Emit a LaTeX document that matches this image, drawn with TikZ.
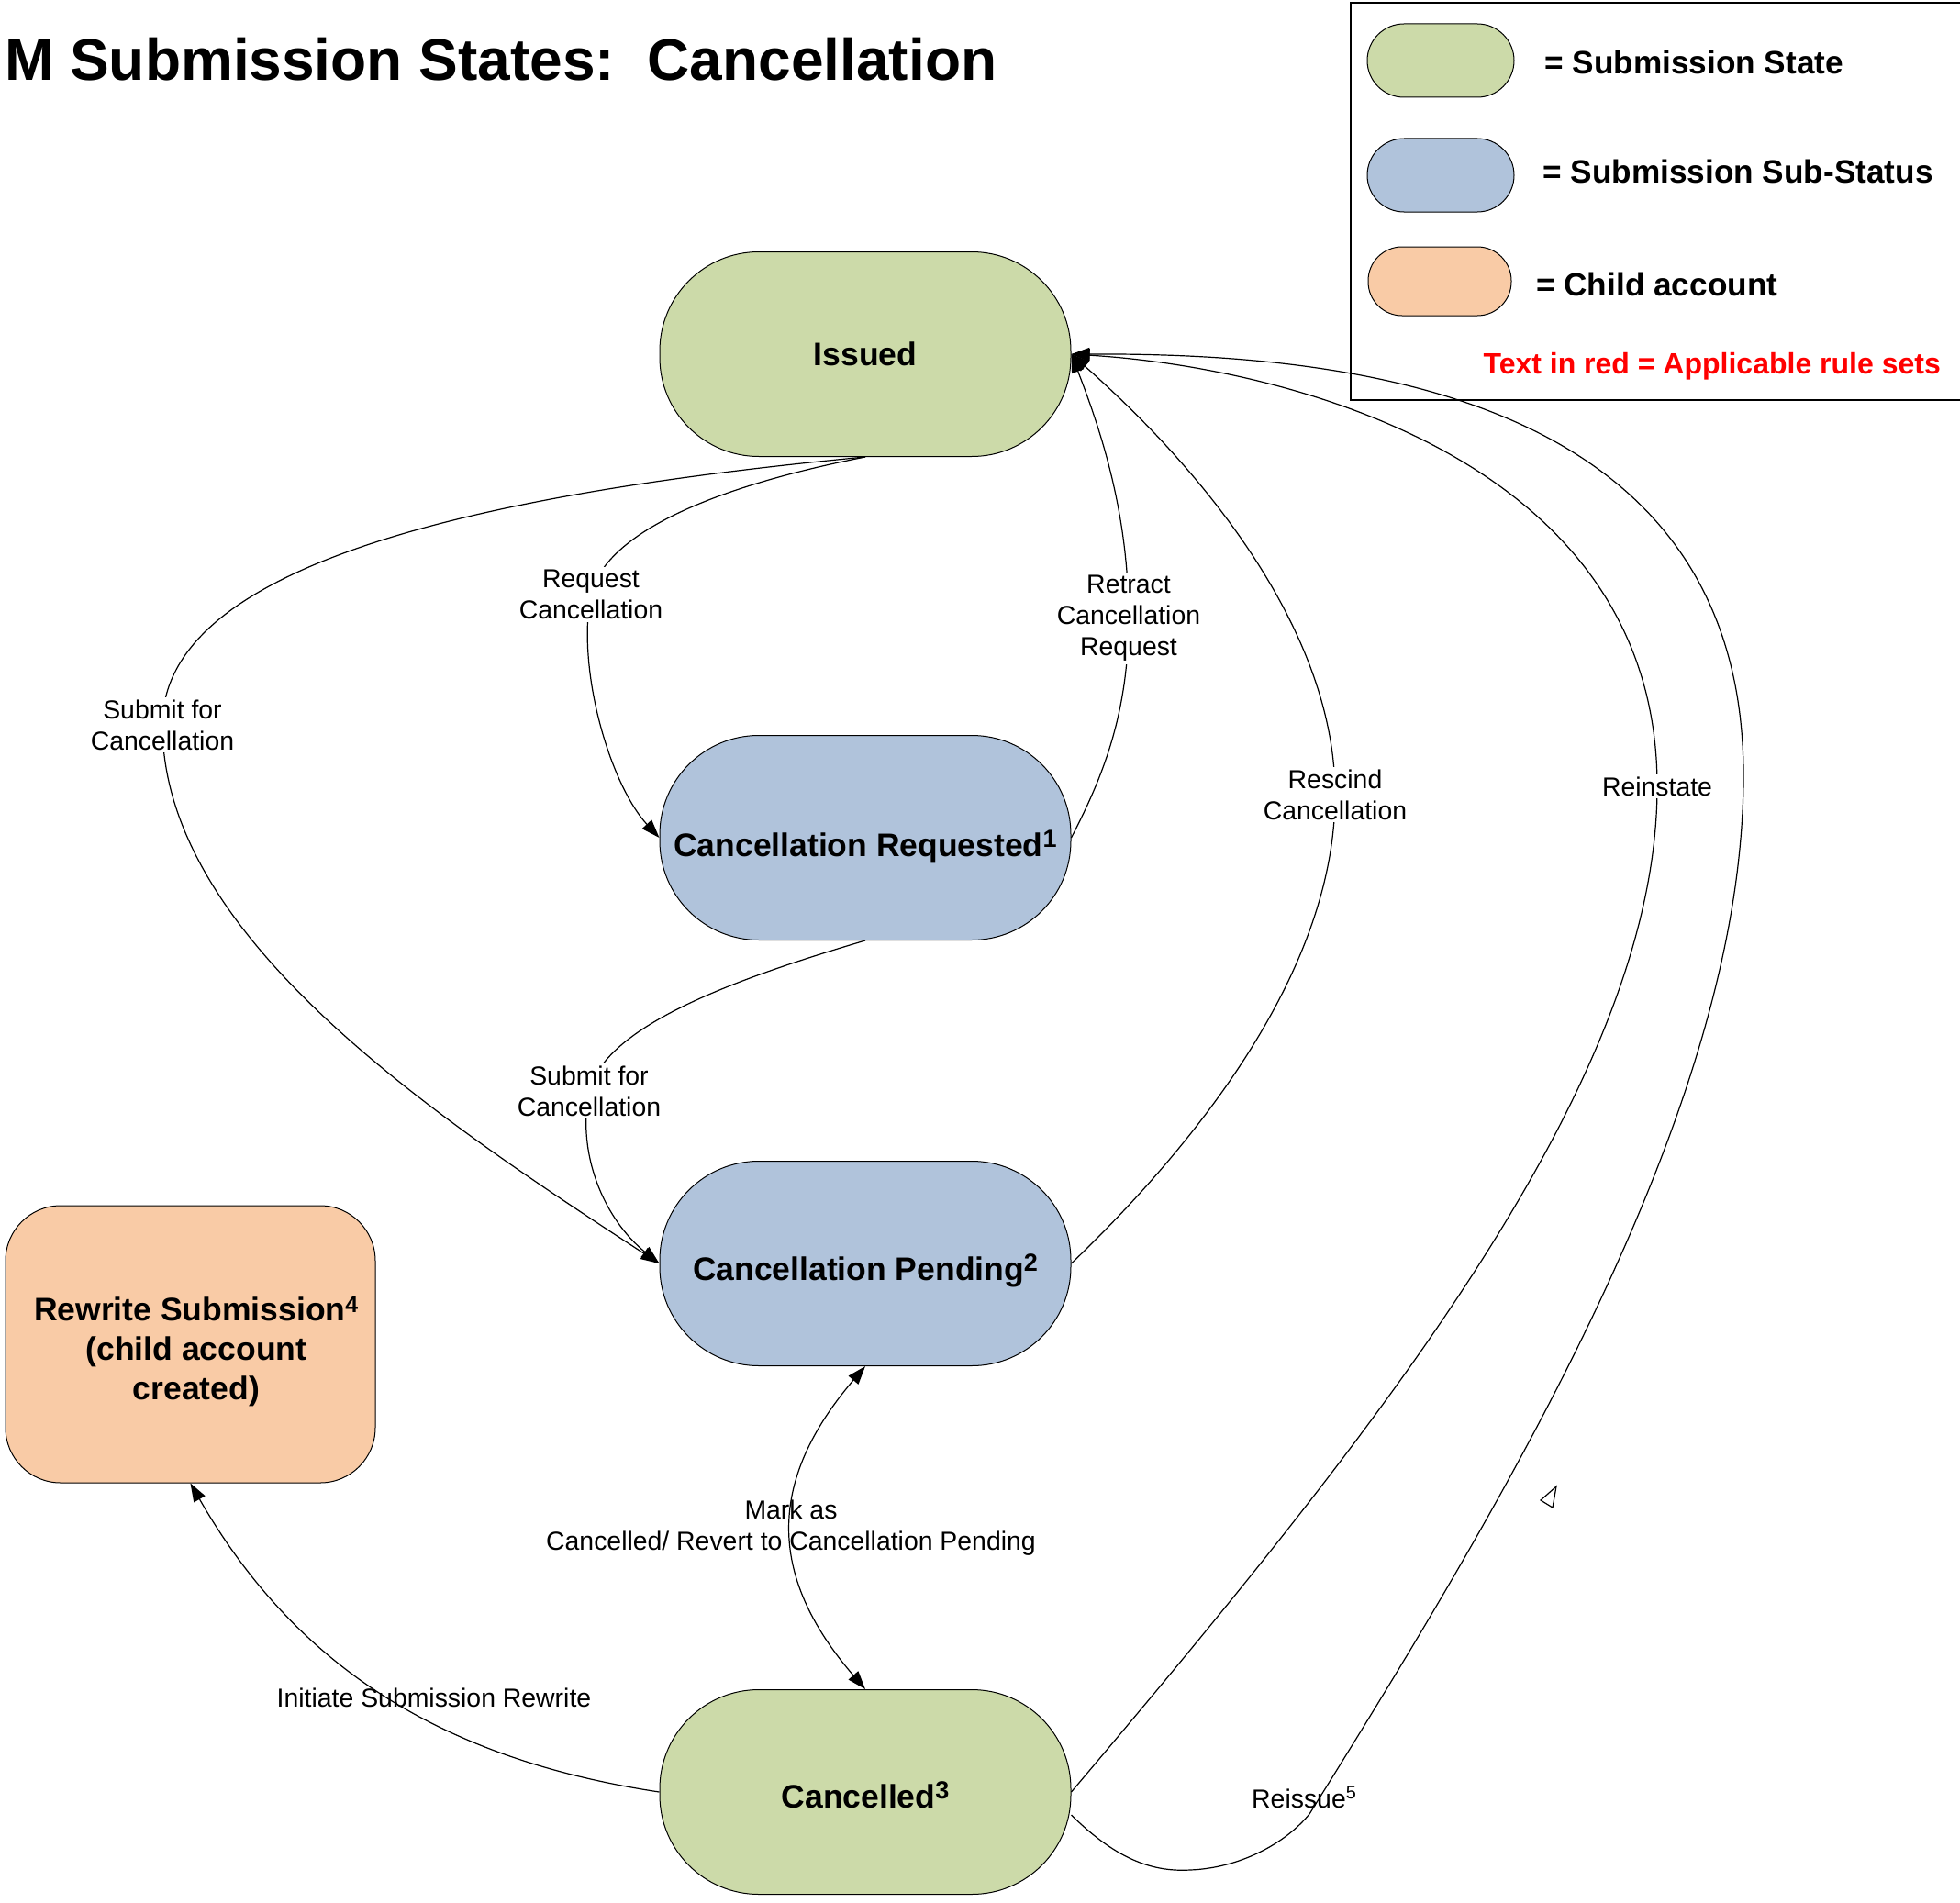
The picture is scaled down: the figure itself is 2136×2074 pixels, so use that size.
\documentclass[tikz,border=0pt]{standalone}
\usepackage{fontspec}
\setmainfont{Liberation Sans}
\usetikzlibrary{arrows.meta}
\definecolor{stategreen}{RGB}{204,218,169}
\definecolor{subblue}{RGB}{176,195,219}
\definecolor{childorange}{RGB}{249,203,166}
\newcommand{\supnum}[1]{\smash{\raisebox{10pt}{\fontsize{27}{27}\selectfont #1}}}
\tikzset{
  statebox/.style={draw=black, line width=1pt, rounded corners=108pt,
    minimum width=448pt, minimum height=223pt, inner sep=0pt,
    font=\fontsize{35.5}{42}\selectfont\bfseries, align=center},
  conn/.style={draw=black, line width=1.2pt, -{Triangle[length=20pt,width=14pt]}},
  biconn/.style={draw=black, line width=1.2pt, {Triangle[length=20pt,width=14pt]}-{Triangle[length=20pt,width=14pt]}},
  lbl/.style={fill=white, inner sep=3pt, font=\fontsize{28.4}{34}\selectfont, align=center},
  lblclear/.style={inner sep=0pt, font=\fontsize{28.4}{34}\selectfont, align=center},
  legshape/.style={draw=black, line width=1pt, rounded corners=40pt, minimum width=160pt, minimum height=80pt, inner sep=0pt},
  legtext/.style={font=\fontsize{35.2}{40}\selectfont\bfseries, anchor=base west, inner sep=0pt},
}
\begin{document}
\begin{tikzpicture}[x=1pt, y=-1pt]
\useasboundingbox (0,0) rectangle (2136,2074);

% title
\node[anchor=base west, inner sep=0pt, font=\fontsize{64}{70}\selectfont\bfseries] (title) at (5,88) {M Submission States:\ \ Cancellation};

% legend
\draw[line width=1.2pt] (2150,3) -- (1472,3) -- (1472,436) -- (2150,436);
\node[legshape, fill=stategreen] (lg1) at (1570,66) {};
\node[legshape, fill=subblue] (lg2) at (1570,191) {};
\node[legshape, fill=childorange, minimum width=156pt, minimum height=75pt, rounded corners=37pt] (lg3) at (1569,306.5) {};
\node[legtext] (lt1) at (1683,81) {= Submission State};
\node[legtext] (lt2) at (1681,199) {= Submission Sub-Status};
\node[legtext] (lt3) at (1674,322) {= Child account};
\node[font=\fontsize{32}{38}\selectfont\bfseries, text=red, anchor=base east, inner sep=0pt] (lt4) at (2115,407) {Text in red = Applicable rule sets};

% states
\node[statebox, fill=stategreen] (iss) at (943,386) {Issued};
\node[statebox, fill=subblue, text height=40pt, text depth=0pt] (cr) at (943,913) {Cancellation Requested\supnum{1}};
\node[statebox, fill=subblue, text height=36pt, text depth=0pt] (pen) at (943,1377) {Cancellation Pending\supnum{2}};
\node[statebox, fill=stategreen, text height=34pt, text depth=0pt] (can) at (943,1953) {Cancelled\supnum{3}};
\node[draw=black, line width=1pt, fill=childorange, rounded corners=60pt,
  minimum width=403pt, minimum height=302pt, inner sep=0pt] (rw) at (207.5,1465) {};
\node[inner sep=0pt, align=center, font=\fontsize{35.5}{43}\selectfont\bfseries] (rwtext) at (214,1473)
  {Rewrite Submission\textsuperscript{4}\\(child account\\created)};

% connectors
\draw[conn] (iss.south) .. controls (500,540) and (177,620) .. (177,790)
  node[lbl] (l1) {Submit for\\Cancellation}
  .. controls (177,1020) and (470,1215) .. (pen.west);

\draw[conn] (iss.south) .. controls (780,530) and (660,580) .. (644,648)
  node[lbl] (l2) {Request\\Cancellation}
  .. controls (628,730) and (665,855) .. (cr.west);

\draw[conn] (cr.east) .. controls (1200,850) and (1230,780) .. (1230,674)
  node[lbl] (l3) {Retract\\Cancellation\\Request}
  .. controls (1230,560) and (1200,470) .. (iss.east);

\draw[conn] (pen.east) .. controls (1300,1250) and (1455,1060) .. (1455,866)
  node[lbl] (l4) {Rescind\\Cancellation}
  .. controls (1455,700) and (1330,530) .. (iss.east);

\draw[conn] (can.east) .. controls (1500,1560) and (1806,1180) .. (1806,857)
  node[lbl] (l5) {Reinstate}
  .. controls (1806,500) and (1400,400) .. (iss.east);

\draw[conn] ([yshift=-25pt]can.east) .. controls (1220,2030) and (1260,2040) .. (1297,2038)
  .. controls (1350,2036) and (1400,2010) .. (1427,1977)
  .. controls (1650,1620) and (1900,1200) .. (1900,845)
  .. controls (1900,420) and (1450,385) .. (iss.east);
\node[anchor=base west, inner sep=0pt, font=\fontsize{28.4}{34}\selectfont] (l6) at (1364,1970) {Reissue\textsuperscript{5}};

\draw[conn] (cr.south) .. controls (790,1070) and (660,1120) .. (642,1189)
  node[lbl] (l7) {Submit for\\Cancellation}
  .. controls (628,1260) and (660,1330) .. (pen.west);

\draw[biconn] (pen.south) .. controls (836,1614) and (836,1717) .. (can.north);
\node[lblclear] (l8) at (862,1665) {Mark as\\Cancelled/ Revert to Cancellation Pending};

\draw[conn] (can.west) .. controls (500,1920) and (330,1830) .. (rw.south);
\node[lblclear] (l9) at (473,1850) {Initiate Submission Rewrite};

% stray open arrowhead
\draw[line width=1.2pt] (1696,1620) -- (1679,1635) -- (1692,1643) -- cycle;
\end{tikzpicture}
\end{document}
